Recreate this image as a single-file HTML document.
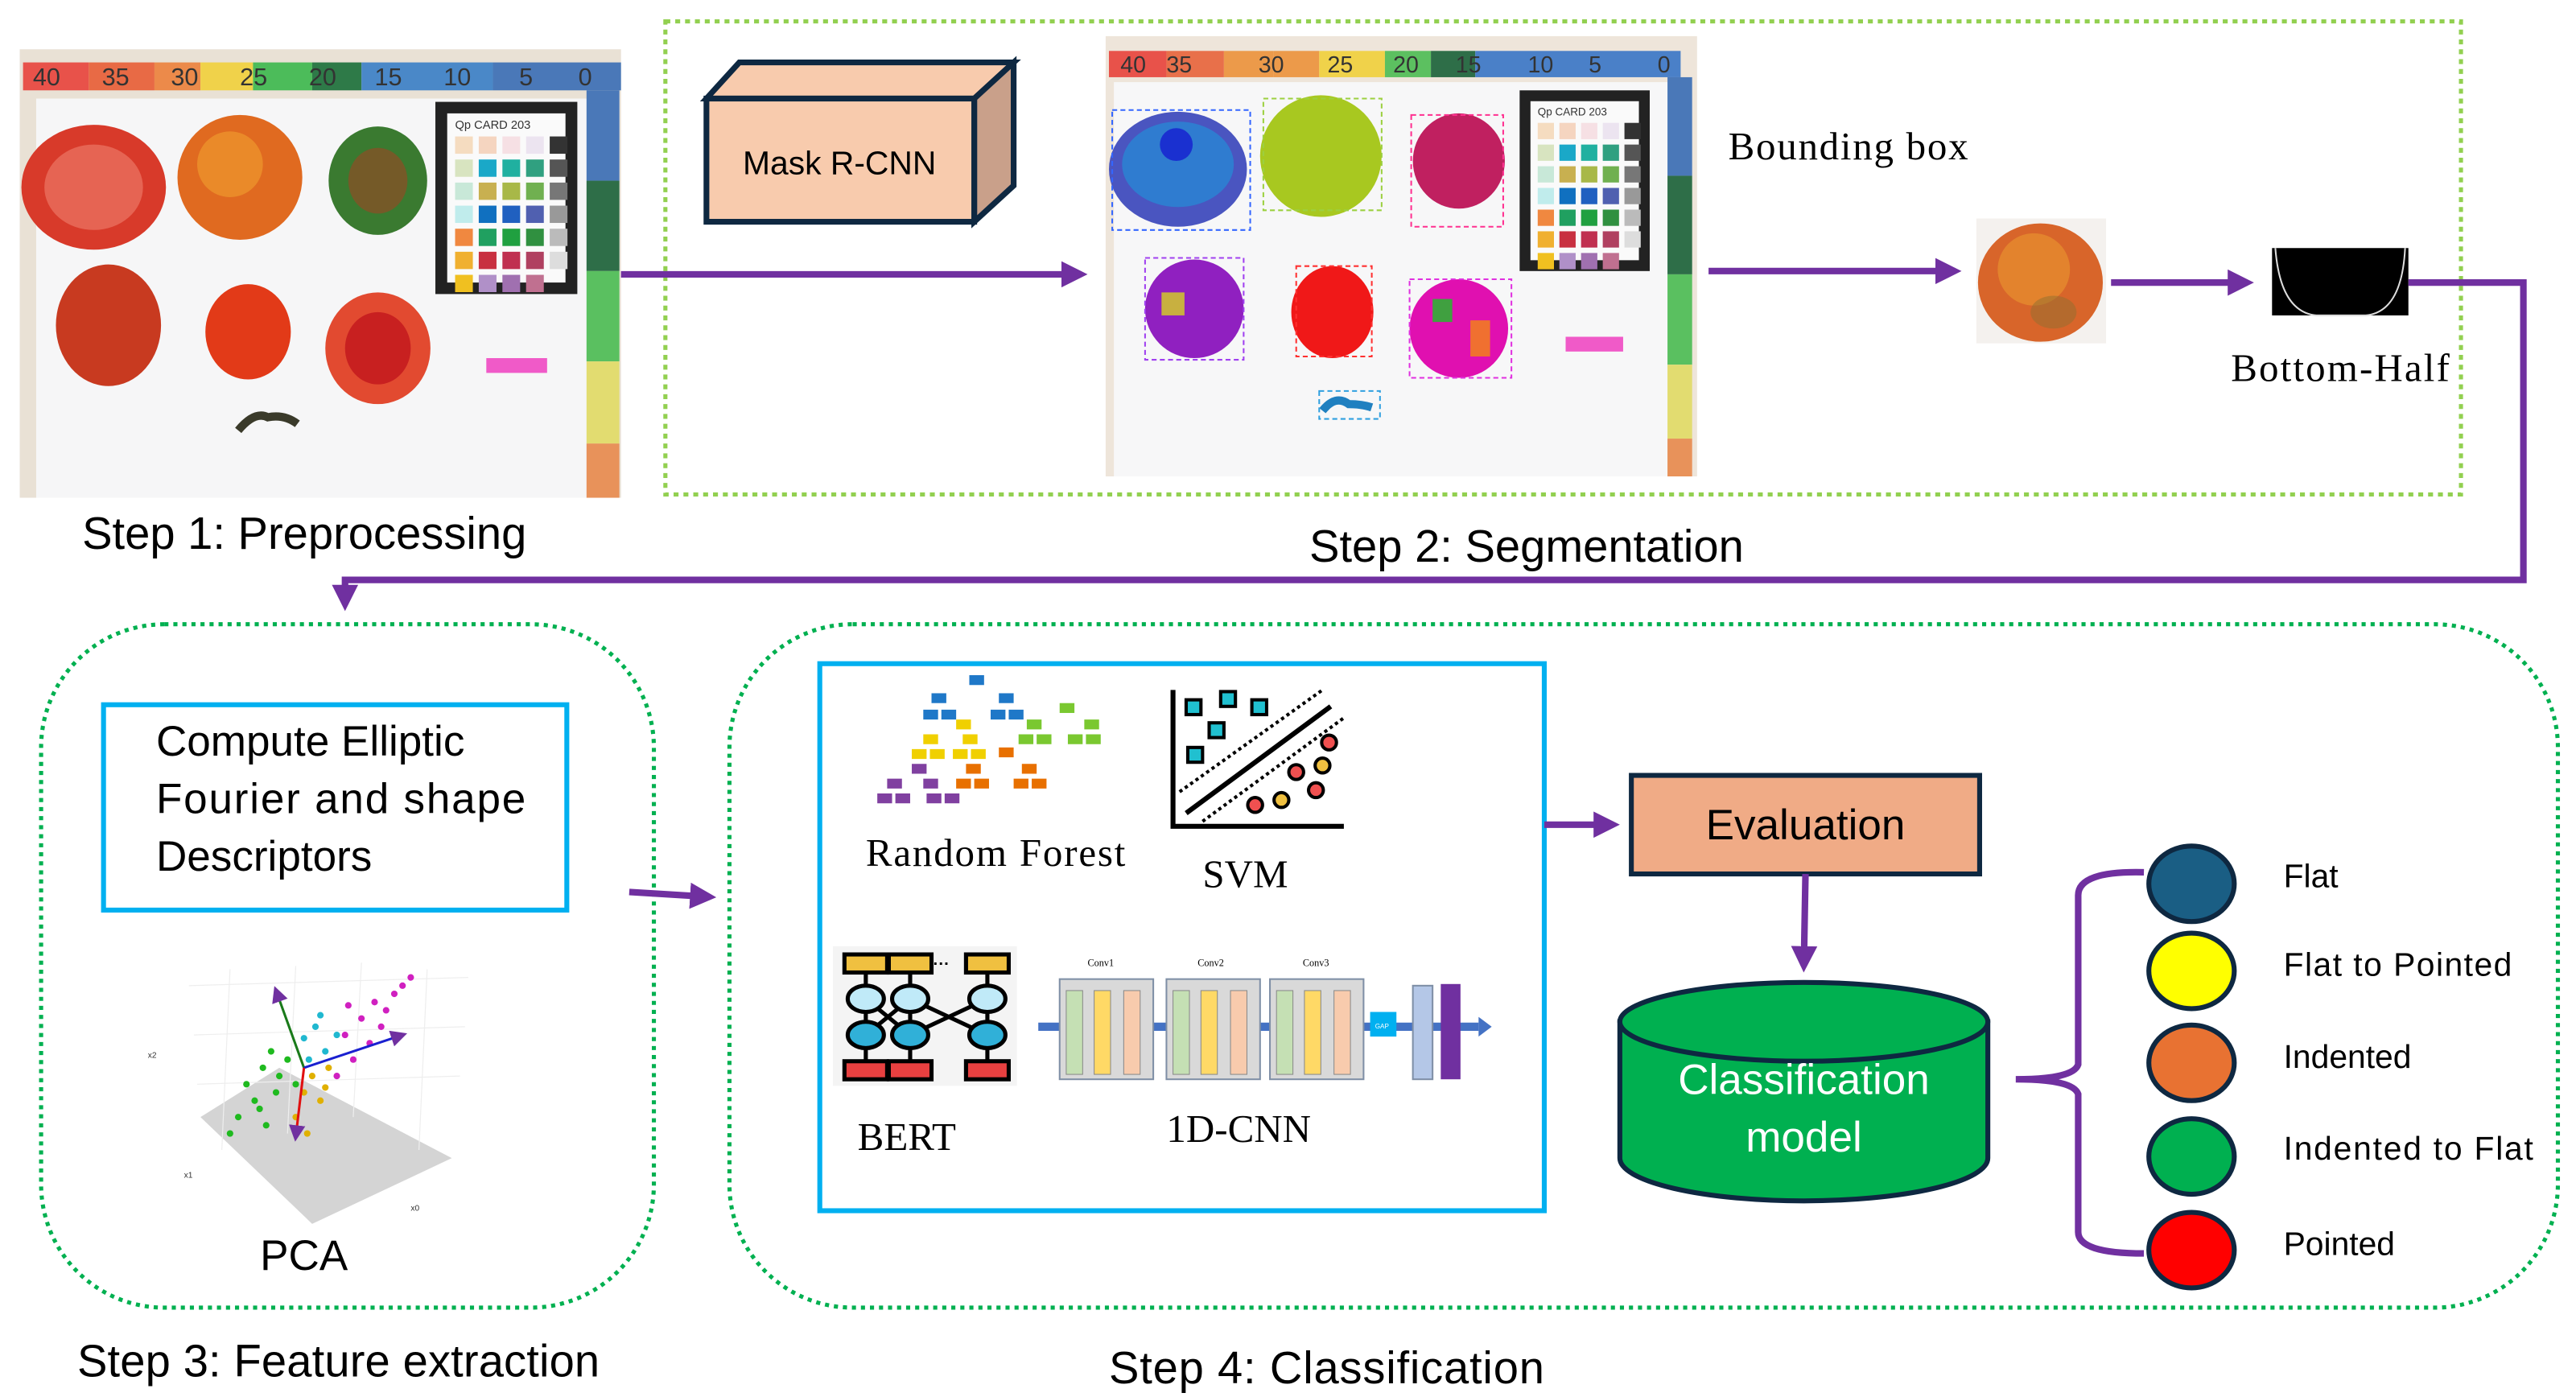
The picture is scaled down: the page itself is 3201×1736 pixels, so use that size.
<!DOCTYPE html>
<html><head><meta charset="utf-8"><style>
html,body{margin:0;padding:0;background:#fff;}
svg{display:block;}
text{font-family:"Liberation Sans",sans-serif;}
.serif{font-family:"Liberation Serif",serif;}
</style></head><body>
<svg width="3201" height="1736" viewBox="0 0 1568 850.4" xmlns="http://www.w3.org/2000/svg">
<defs>
<marker id="ah" markerWidth="10" markerHeight="10" refX="7" refY="5" orient="auto" markerUnits="userSpaceOnUse"><path d="M0,0 L10,5 L0,10 Z" fill="#7030a0"/></marker>
<marker id="ah2" markerWidth="16" markerHeight="16" refX="12" refY="8" orient="auto" markerUnits="userSpaceOnUse"><path d="M0,0 L16,8 L0,16 Z" fill="#7030a0"/></marker>
<g id="card"><rect x="0" y="0" width="72" height="100" fill="#222"/><rect x="6" y="6" width="60" height="88" fill="#fafafa"/>
<g transform="translate(10,18)">
<rect x="0" y="0" width="9" height="9" fill="#f5dcc0"/><rect x="12" y="0" width="9" height="9" fill="#f5d5c0"/><rect x="24" y="0" width="9" height="9" fill="#f6e0e4"/><rect x="36" y="0" width="9" height="9" fill="#ece4f0"/><rect x="48" y="0" width="9" height="9" fill="#333"/>
<rect x="0" y="12" width="9" height="9" fill="#d8e4c0"/><rect x="12" y="12" width="9" height="9" fill="#1aa8c8"/><rect x="24" y="12" width="9" height="9" fill="#20b0a0"/><rect x="36" y="12" width="9" height="9" fill="#30a080"/><rect x="48" y="12" width="9" height="9" fill="#555"/>
<rect x="0" y="24" width="9" height="9" fill="#c8e8d8"/><rect x="12" y="24" width="9" height="9" fill="#c8b050"/><rect x="24" y="24" width="9" height="9" fill="#a8b848"/><rect x="36" y="24" width="9" height="9" fill="#70b050"/><rect x="48" y="24" width="9" height="9" fill="#777"/>
<rect x="0" y="36" width="9" height="9" fill="#c0ecec"/><rect x="12" y="36" width="9" height="9" fill="#1070c0"/><rect x="24" y="36" width="9" height="9" fill="#2060c0"/><rect x="36" y="36" width="9" height="9" fill="#5060b0"/><rect x="48" y="36" width="9" height="9" fill="#999"/>
<rect x="0" y="48" width="9" height="9" fill="#f08840"/><rect x="12" y="48" width="9" height="9" fill="#20a060"/><rect x="24" y="48" width="9" height="9" fill="#20a040"/><rect x="36" y="48" width="9" height="9" fill="#309040"/><rect x="48" y="48" width="9" height="9" fill="#bbb"/>
<rect x="0" y="60" width="9" height="9" fill="#f0b030"/><rect x="12" y="60" width="9" height="9" fill="#c83040"/><rect x="24" y="60" width="9" height="9" fill="#c03050"/><rect x="36" y="60" width="9" height="9" fill="#b04060"/><rect x="48" y="60" width="9" height="9" fill="#ddd"/>
<rect x="0" y="72" width="9" height="9" fill="#f0c020"/><rect x="12" y="72" width="9" height="9" fill="#b090c8"/><rect x="24" y="72" width="9" height="9" fill="#a070b0"/><rect x="36" y="72" width="9" height="9" fill="#c07090"/>
</g><text x="10" y="14" font-size="6" fill="#333">Qp CARD 203</text></g>
</defs>

<!-- STEP 1 photo -->
<rect x="12" y="30" width="366" height="273" fill="#e9e1d5"/>
<rect x="22" y="60" width="336" height="243" fill="#f6f6f7"/>
<g font-family="Liberation Mono" font-size="15" fill="#333">
<rect x="14" y="38" width="40" height="17" fill="#e8524a"/><rect x="54" y="38" width="40" height="17" fill="#e86a45"/><rect x="94" y="38" width="28" height="17" fill="#ec8a4a"/><rect x="122" y="38" width="32" height="17" fill="#f0d24a"/><rect x="154" y="38" width="36" height="17" fill="#4cbc5a"/><rect x="190" y="38" width="30" height="17" fill="#2e7a48"/><rect x="220" y="38" width="80" height="17" fill="#4a88c8"/><rect x="300" y="38" width="78" height="17" fill="#4a78b8"/>
<text x="20" y="52">40</text><text x="62" y="52">35</text><text x="104" y="52">30</text><text x="146" y="52">25</text><text x="188" y="52">20</text><text x="228" y="52">15</text><text x="270" y="52">10</text><text x="316" y="52">5</text><text x="352" y="52">0</text>
<rect x="357" y="55" width="20" height="55" fill="#4a78b8"/><rect x="357" y="110" width="20" height="55" fill="#2e6e48"/><rect x="357" y="165" width="20" height="55" fill="#5ac060"/><rect x="357" y="220" width="20" height="50" fill="#e2dc70"/><rect x="357" y="270" width="20" height="33" fill="#e8925a"/>
</g>
<use href="#card" transform="translate(265,62) scale(1.2,1.17)"/>
<ellipse cx="57" cy="114" rx="44" ry="38" fill="#d83a2a"/><ellipse cx="57" cy="114" rx="30" ry="26" fill="#f08070" opacity=".6"/>
<ellipse cx="146" cy="108" rx="38" ry="38" fill="#e06a20"/><ellipse cx="140" cy="100" rx="20" ry="20" fill="#f0a030" opacity=".6"/>
<ellipse cx="230" cy="110" rx="30" ry="33" fill="#3a7a30"/><ellipse cx="230" cy="110" rx="18" ry="20" fill="#b03a20" opacity=".5"/>
<ellipse cx="66" cy="198" rx="32" ry="37" fill="#c83a20"/>
<ellipse cx="151" cy="202" rx="26" ry="29" fill="#e23a18"/>
<ellipse cx="230" cy="212" rx="32" ry="34" fill="#e24a30"/><ellipse cx="230" cy="212" rx="20" ry="22" fill="#c82020"/>
<rect x="296" y="218" width="37" height="9" fill="#f05ac8"/>
<path d="M145,262 q10,-12 18,-8 q10,-2 18,4" stroke="#3a3a2a" stroke-width="5" fill="none"/>

<text x="50" y="334" font-size="27.5" fill="#000">Step 1: Preprocessing</text>

<!-- STEP 2 -->
<rect x="405" y="13" width="1093" height="288" fill="none" stroke="#92d050" stroke-width="2.5" stroke-dasharray="3,3"/>
<g stroke="#0e2841" stroke-width="3.5" stroke-linejoin="miter">
<path d="M430,60 L450,38 L617,38 L593,60 Z" fill="#f8cbad"/>
<path d="M593,60 L617,38 L617,113 L593,135 Z" fill="#c9a08a"/>
<rect x="430" y="60" width="163" height="75" fill="#f8cbad"/>
</g>
<text x="511" y="106" font-size="20" text-anchor="middle" fill="#000">Mask R-CNN</text>
<line x1="378" y1="167" x2="658" y2="167" stroke="#7030a0" stroke-width="4" marker-end="url(#ah2)"/>

<!-- seg image -->
<rect x="673" y="22" width="360" height="268" fill="#eee5da"/>
<rect x="678" y="50" width="345" height="240" fill="#f7f7f8"/>
<g font-family="Liberation Mono" font-size="14" fill="#333">
<rect x="675" y="31" width="35" height="16" fill="#e8524a"/><rect x="710" y="31" width="35" height="16" fill="#e8704a"/><rect x="745" y="31" width="30" height="16" fill="#ec9a4a"/><rect x="775" y="31" width="28" height="16" fill="#ec9a4a"/><rect x="803" y="31" width="40" height="16" fill="#f0d24a"/><rect x="843" y="31" width="28" height="16" fill="#5cc060"/><rect x="871" y="31" width="27" height="16" fill="#2e6e48"/><rect x="898" y="31" width="125" height="16" fill="#4a80c8"/>
<text x="682" y="44">40</text><text x="710" y="44">35</text><text x="766" y="44">30</text><text x="808" y="44">25</text><text x="848" y="44">20</text><text x="886" y="44">15</text><text x="930" y="44">10</text><text x="967" y="44">5</text><text x="1009" y="44">0</text>
<rect x="1015" y="47" width="15" height="60" fill="#4a78b8"/><rect x="1015" y="107" width="15" height="60" fill="#2e6e48"/><rect x="1015" y="167" width="15" height="55" fill="#5ac060"/><rect x="1015" y="222" width="15" height="45" fill="#e2dc70"/><rect x="1015" y="267" width="15" height="23" fill="#e8925a"/>
</g>
<use href="#card" transform="translate(925,55) scale(1.1,1.1)"/>
<ellipse cx="717" cy="103" rx="42" ry="35" fill="#4a55c0"/><ellipse cx="717" cy="100" rx="34" ry="26" fill="#2f7cd0"/><ellipse cx="716" cy="88" rx="10" ry="10" fill="#1a30d0"/>
<rect x="677" y="67" width="84" height="73" fill="none" stroke="#3366ff" stroke-dasharray="3,2"/>
<ellipse cx="804" cy="95" rx="37" ry="37" fill="#a8c820"/><rect x="769" y="60" width="72" height="68" fill="none" stroke="#9cd040" stroke-dasharray="3,2"/>
<ellipse cx="888" cy="98" rx="28" ry="29" fill="#c02060"/><rect x="859" y="70" width="56" height="68" fill="none" stroke="#ff3090" stroke-dasharray="3,2"/>
<ellipse cx="727" cy="188" rx="30" ry="30" fill="#9020c0"/><rect x="697" y="157" width="60" height="62" fill="none" stroke="#a040f0" stroke-dasharray="3,2"/><rect x="707" y="178" width="14" height="14" fill="#c8b040"/>
<ellipse cx="811" cy="190" rx="25" ry="28" fill="#f01818"/><rect x="789" y="162" width="46" height="55" fill="none" stroke="#ff3030" stroke-dasharray="3,2"/>
<ellipse cx="888" cy="200" rx="30" ry="30" fill="#e010b0"/><rect x="858" y="170" width="62" height="60" fill="none" stroke="#e030e0" stroke-dasharray="3,2"/><rect x="872" y="182" width="12" height="14" fill="#40a040"/><rect x="895" y="195" width="12" height="22" fill="#f07030"/>
<rect x="953" y="205" width="35" height="9" fill="#f05ac8"/>
<path d="M805,250 q8,-10 16,-4 q8,0 14,2" stroke="#2080c0" stroke-width="5" fill="none"/><rect x="803" y="238" width="37" height="17" fill="none" stroke="#30a0e0" stroke-dasharray="3,2"/>

<text x="1052" y="97" class="serif" font-size="24" textLength="146" fill="#000">Bounding box</text>
<line x1="1040" y1="165" x2="1190" y2="165" stroke="#7030a0" stroke-width="4" marker-end="url(#ah2)"/>
<rect x="1203" y="133" width="79" height="76" fill="#f4f1ee"/>
<ellipse cx="1242" cy="172" rx="38" ry="36" fill="#d8652a"/><ellipse cx="1238" cy="164" rx="22" ry="22" fill="#e8902f" opacity=".7"/><ellipse cx="1250" cy="190" rx="14" ry="10" fill="#907030" opacity=".5"/>
<line x1="1285" y1="172" x2="1368" y2="172" stroke="#7030a0" stroke-width="4" marker-end="url(#ah2)"/>
<rect x="1383" y="151" width="83" height="41" fill="#000"/>
<path d="M1385,151 Q1388,190 1410,192 L1440,192 Q1462,190 1464,151" stroke="#ddd" stroke-width="1" fill="none"/>
<text x="1358" y="232" class="serif" font-size="24" textLength="133" fill="#000">Bottom-Half</text>
<path d="M1466,172 L1536,172 L1536,353 L210,353 L210,368" stroke="#7030a0" stroke-width="4" fill="none" marker-end="url(#ah2)"/>
<text x="797" y="342" font-size="27.5" fill="#000">Step 2: Segmentation</text>

<!-- STEP 3 -->
<rect x="25" y="380" width="373" height="416" rx="75" ry="75" fill="none" stroke="#00b050" stroke-width="2.5" stroke-dasharray="2.5,3"/>
<rect x="63" y="429" width="282" height="125" fill="none" stroke="#00b0f0" stroke-width="3"/>
<text x="95" y="460" font-size="26" fill="#000">Compute Elliptic</text>
<text x="95" y="495" font-size="26" textLength="225" fill="#000">Fourier and shape</text>
<text x="95" y="530" font-size="26" fill="#000">Descriptors</text>
<!-- PCA -->
<path d="M122,680 L170,650 L275,705 L190,745 Z" fill="#d4d4d4"/>
<g stroke="#eee" stroke-width=".6" fill="none"><path d="M115,600 L285,595 M118,630 L283,625 M120,660 L280,655"/><path d="M140,590 L135,700 M180,588 L175,690 M220,586 L215,680 M260,590 L255,700"/></g>
<g fill="#1fba1f"><circle cx="150" cy="660" r="2"/><circle cx="160" cy="650" r="2"/><circle cx="155" cy="670" r="2"/><circle cx="165" cy="640" r="2"/><circle cx="145" cy="680" r="2"/><circle cx="170" cy="655" r="2"/><circle cx="158" cy="675" r="2"/><circle cx="175" cy="645" r="2"/><circle cx="140" cy="690" r="2"/><circle cx="168" cy="665" r="2"/><circle cx="180" cy="660" r="2"/><circle cx="162" cy="685" r="2"/></g>
<g fill="#e0b000"><circle cx="185" cy="665" r="2"/><circle cx="190" cy="655" r="2"/><circle cx="195" cy="670" r="2"/><circle cx="180" cy="680" r="2"/><circle cx="200" cy="650" r="2"/><circle cx="187" cy="690" r="2"/><circle cx="198" cy="662" r="2"/></g>
<g fill="#20b8d0"><circle cx="185" cy="632" r="2"/><circle cx="192" cy="625" r="2"/><circle cx="198" cy="640" r="2"/><circle cx="188" cy="645" r="2"/><circle cx="205" cy="630" r="2"/><circle cx="195" cy="618" r="2"/></g>
<g fill="#d020c0"><circle cx="210" cy="630" r="2"/><circle cx="220" cy="620" r="2"/><circle cx="228" cy="610" r="2"/><circle cx="215" cy="645" r="2"/><circle cx="235" cy="615" r="2"/><circle cx="240" cy="605" r="2"/><circle cx="225" cy="635" r="2"/><circle cx="245" cy="600" r="2"/><circle cx="205" cy="655" r="2"/><circle cx="232" cy="625" r="2"/><circle cx="250" cy="595" r="2"/><circle cx="212" cy="612" r="2"/></g>
<line x1="185" y1="650" x2="168" y2="603" stroke="#1a7a1a" stroke-width="1.5" marker-end="url(#ah)"/>
<line x1="185" y1="650" x2="245" y2="630" stroke="#1a20d0" stroke-width="1.5" marker-end="url(#ah)"/>
<line x1="185" y1="650" x2="180" y2="692" stroke="#e01010" stroke-width="1.5" marker-end="url(#ah)"/>
<text x="90" y="644" font-size="5" fill="#333">x2</text><text x="112" y="717" font-size="5" fill="#333">x1</text><text x="250" y="737" font-size="5" fill="#333">x0</text>
<text x="185" y="773" font-size="26" text-anchor="middle" fill="#000">PCA</text>
<text x="47" y="838" font-size="27.5" textLength="318" fill="#000">Step 3: Feature extraction</text>
<line x1="383" y1="543" x2="432" y2="546" stroke="#7030a0" stroke-width="4" marker-end="url(#ah2)"/>

<!-- STEP 4 -->
<rect x="444" y="380" width="1113" height="416" rx="75" ry="75" fill="none" stroke="#00b050" stroke-width="2.5" stroke-dasharray="2.5,3"/>
<rect x="499" y="404" width="441" height="333" fill="none" stroke="#00b0f0" stroke-width="3"/>
<g>
<rect x="590" y="411" width="9" height="6" fill="#1f78c8"/>
<rect x="567" y="422" width="9" height="6" fill="#1f78c8"/><rect x="608" y="422" width="9" height="6" fill="#1f78c8"/>
<rect x="562" y="432" width="9" height="6" fill="#1f78c8"/><rect x="573" y="432" width="9" height="6" fill="#1f78c8"/><rect x="603" y="432" width="9" height="6" fill="#1f78c8"/><rect x="614" y="432" width="9" height="6" fill="#1f78c8"/>
<rect x="645" y="428" width="9" height="6" fill="#7ac830"/><rect x="625" y="438" width="9" height="6" fill="#7ac830"/><rect x="660" y="438" width="9" height="6" fill="#7ac830"/><rect x="620" y="447" width="9" height="6" fill="#7ac830"/><rect x="631" y="447" width="9" height="6" fill="#7ac830"/><rect x="650" y="447" width="9" height="6" fill="#7ac830"/><rect x="661" y="447" width="9" height="6" fill="#7ac830"/>
<rect x="582" y="438" width="9" height="6" fill="#f0d000"/><rect x="562" y="447" width="9" height="6" fill="#f0d000"/><rect x="586" y="447" width="9" height="6" fill="#f0d000"/><rect x="555" y="456" width="9" height="6" fill="#f0d000"/><rect x="566" y="456" width="9" height="6" fill="#f0d000"/><rect x="580" y="456" width="9" height="6" fill="#f0d000"/><rect x="591" y="456" width="9" height="6" fill="#f0d000"/>
<rect x="608" y="455" width="9" height="6" fill="#e87000"/><rect x="588" y="465" width="9" height="6" fill="#e87000"/><rect x="622" y="465" width="9" height="6" fill="#e87000"/><rect x="582" y="474" width="9" height="6" fill="#e87000"/><rect x="593" y="474" width="9" height="6" fill="#e87000"/><rect x="617" y="474" width="9" height="6" fill="#e87000"/><rect x="628" y="474" width="9" height="6" fill="#e87000"/>
<rect x="555" y="465" width="9" height="6" fill="#8040a0"/><rect x="540" y="474" width="9" height="6" fill="#8040a0"/><rect x="562" y="474" width="9" height="6" fill="#8040a0"/><rect x="534" y="483" width="9" height="6" fill="#8040a0"/><rect x="545" y="483" width="9" height="6" fill="#8040a0"/><rect x="564" y="483" width="9" height="6" fill="#8040a0"/><rect x="575" y="483" width="9" height="6" fill="#8040a0"/>
</g>
<text x="527" y="527" class="serif" font-size="24" textLength="158" fill="#000">Random Forest</text>
<g>
<path d="M714,420 L714,503 L818,503" stroke="#000" stroke-width="3" fill="none"/>
<line x1="722" y1="495" x2="810" y2="430" stroke="#000" stroke-width="3"/>
<line x1="718" y1="482" x2="805" y2="420" stroke="#000" stroke-width="2" stroke-dasharray="2,2"/>
<line x1="732" y1="500" x2="818" y2="437" stroke="#000" stroke-width="2" stroke-dasharray="2,2"/>
<rect x="722" y="426" width="9" height="9" fill="#20c0d0" stroke="#000" stroke-width="2"/><rect x="743" y="421" width="9" height="9" fill="#20c0d0" stroke="#000" stroke-width="2"/><rect x="762" y="426" width="9" height="9" fill="#20c0d0" stroke="#000" stroke-width="2"/><rect x="736" y="440" width="9" height="9" fill="#20c0d0" stroke="#000" stroke-width="2"/><rect x="723" y="455" width="9" height="9" fill="#20c0d0" stroke="#000" stroke-width="2"/>
<circle cx="809" cy="452" r="4.5" fill="#f05050" stroke="#000" stroke-width="2"/><circle cx="805" cy="466" r="4.5" fill="#f0c040" stroke="#000" stroke-width="2"/><circle cx="789" cy="470" r="4.5" fill="#f05050" stroke="#000" stroke-width="2"/><circle cx="801" cy="481" r="4.5" fill="#f05050" stroke="#000" stroke-width="2"/><circle cx="780" cy="487" r="4.5" fill="#f0c040" stroke="#000" stroke-width="2"/><circle cx="764" cy="490" r="4.5" fill="#f05050" stroke="#000" stroke-width="2"/>
</g>
<text x="732" y="540" class="serif" font-size="24" fill="#000">SVM</text>
<g stroke="#000" stroke-width="2.5">
<rect x="507" y="576" width="112" height="85" fill="#f4f4f4" stroke="none"/>
<path d="M527,587 L527,650 M554,587 L554,650 M601,587 L601,650 M527,608 L554,630 M554,608 L527,630 M554,608 L601,630 M601,608 L554,630"/>
<rect x="514" y="581" width="26" height="11" fill="#f0c040"/><rect x="541" y="581" width="26" height="11" fill="#f0c040"/><rect x="588" y="581" width="26" height="11" fill="#f0c040"/>
<ellipse cx="527" cy="608" rx="11" ry="8" fill="#c0eaf8"/><ellipse cx="554" cy="608" rx="11" ry="8" fill="#c0eaf8"/><ellipse cx="601" cy="608" rx="11" ry="8" fill="#c0eaf8"/>
<ellipse cx="527" cy="630" rx="11" ry="8" fill="#30b0d8"/><ellipse cx="554" cy="630" rx="11" ry="8" fill="#30b0d8"/><ellipse cx="601" cy="630" rx="11" ry="8" fill="#30b0d8"/>
<rect x="514" y="646" width="26" height="11" fill="#e84040"/><rect x="541" y="646" width="26" height="11" fill="#e84040"/><rect x="588" y="646" width="26" height="11" fill="#e84040"/>
</g>
<text x="568" y="590" font-size="10" fill="#000" font-weight="bold">···</text>
<text x="522" y="700" class="serif" font-size="24" fill="#000">BERT</text>
<line x1="632" y1="625" x2="900" y2="625" stroke="#4472c4" stroke-width="5"/>
<path d="M900,619 L908,625 L900,631 Z" fill="#4472c4"/>
<g font-size="4" fill="#000">
<rect x="645" y="596" width="57" height="61" fill="#d9d9d9" stroke="#7f8fa6"/><rect x="649" y="603" width="10" height="51" fill="#c5e0b4" stroke="#888" stroke-width=".5"/><rect x="666" y="603" width="10" height="51" fill="#ffd966" stroke="#888" stroke-width=".5"/><rect x="684" y="603" width="10" height="51" fill="#f8cbad" stroke="#888" stroke-width=".5"/>
<rect x="710" y="596" width="57" height="61" fill="#d9d9d9" stroke="#7f8fa6"/><rect x="714" y="603" width="10" height="51" fill="#c5e0b4" stroke="#888" stroke-width=".5"/><rect x="731" y="603" width="10" height="51" fill="#ffd966" stroke="#888" stroke-width=".5"/><rect x="749" y="603" width="10" height="51" fill="#f8cbad" stroke="#888" stroke-width=".5"/>
<rect x="773" y="596" width="57" height="61" fill="#d9d9d9" stroke="#7f8fa6"/><rect x="777" y="603" width="10" height="51" fill="#c5e0b4" stroke="#888" stroke-width=".5"/><rect x="794" y="603" width="10" height="51" fill="#ffd966" stroke="#888" stroke-width=".5"/><rect x="812" y="603" width="10" height="51" fill="#f8cbad" stroke="#888" stroke-width=".5"/>
<rect x="834" y="616" width="16" height="15" fill="#00b0f0"/><text x="837" y="626" fill="#fff">GAP</text>
<rect x="860" y="600" width="12" height="57" fill="#b4c7e7" stroke="#7f8fa6"/>
<rect x="877" y="599" width="12" height="58" fill="#7030a0"/>
<text x="662" y="588" font-size="6" class="serif">Conv1</text><text x="729" y="588" font-size="6" class="serif">Conv2</text><text x="793" y="588" font-size="6" class="serif">Conv3</text>
</g>
<text x="710" y="695" class="serif" font-size="24" fill="#000">1D-CNN</text>

<line x1="940" y1="502" x2="982" y2="502" stroke="#7030a0" stroke-width="4" marker-end="url(#ah2)"/>
<rect x="993" y="472" width="212" height="60" fill="#f0ab86" stroke="#0e2841" stroke-width="3"/>
<text x="1099" y="511" font-size="26" text-anchor="middle" fill="#000">Evaluation</text>
<line x1="1099" y1="532" x2="1098" y2="588" stroke="#7030a0" stroke-width="4" marker-end="url(#ah2)"/>
<path d="M986,622 L986,705 A112,26 0 0 0 1210,705 L1210,622 Z" fill="#00b050" stroke="#0e2841" stroke-width="3"/>
<ellipse cx="1098" cy="622" rx="112" ry="24" fill="#00b050" stroke="#0e2841" stroke-width="3"/>
<text x="1098" y="666" font-size="26" text-anchor="middle" fill="#fff">Classification</text>
<text x="1098" y="701" font-size="26" text-anchor="middle" fill="#fff">model</text>
<path d="M1305,531 Q1265,530 1265,545 L1265,648 Q1262,657 1227,657 Q1262,657 1265,666 L1265,750 Q1265,763 1305,763" stroke="#7030a0" stroke-width="4" fill="none"/>
<g stroke="#0e2841" stroke-width="3">
<ellipse cx="1334" cy="538" rx="26" ry="23" fill="#1a5e84"/>
<ellipse cx="1334" cy="591" rx="26" ry="23" fill="#ffff00"/>
<ellipse cx="1334" cy="647" rx="26" ry="23" fill="#e87232"/>
<ellipse cx="1334" cy="704" rx="26" ry="23" fill="#00b050"/>
<ellipse cx="1334" cy="761" rx="26" ry="23" fill="#ff0000"/>
</g>
<g font-size="20" fill="#000">
<text x="1390" y="540">Flat</text>
<text x="1390" y="594" textLength="139">Flat to Pointed</text>
<text x="1390" y="650">Indented</text>
<text x="1390" y="706" textLength="152">Indented to Flat</text>
<text x="1390" y="764">Pointed</text>
</g>
<text x="675" y="842" font-size="27.5" textLength="265" fill="#000">Step 4: Classification</text>
</svg>
</body></html>
